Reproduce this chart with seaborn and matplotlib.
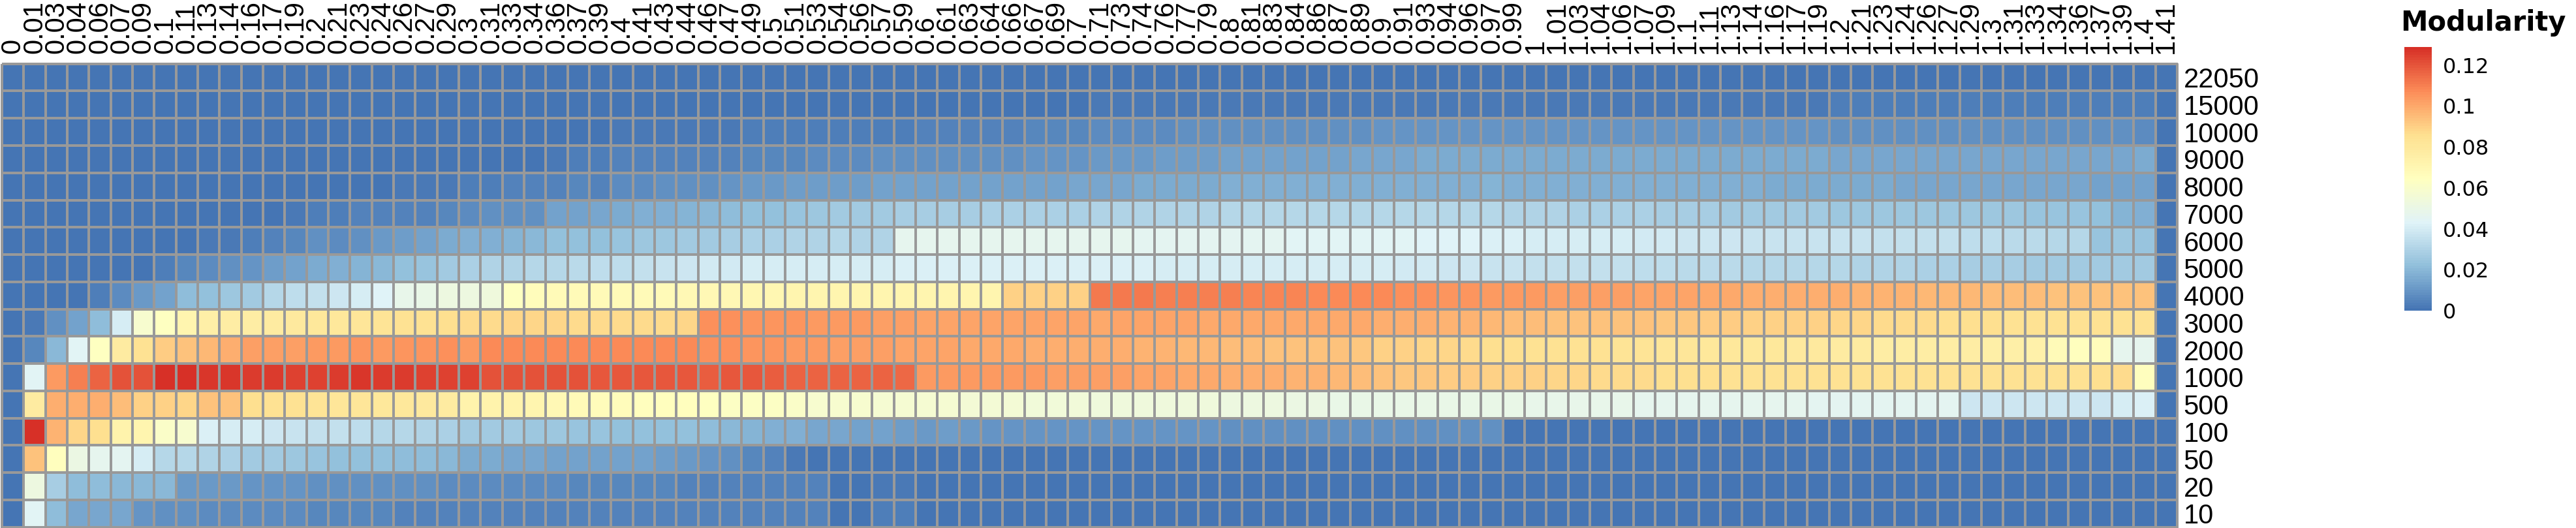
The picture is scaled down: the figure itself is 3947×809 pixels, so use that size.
import matplotlib
matplotlib.use("Agg")
import matplotlib.pyplot as plt
import numpy as np
import pandas as pd
import seaborn as sns
from matplotlib.colors import LinearSegmentedColormap

plt.rcParams['font.family'] = ['Liberation Sans', 'DejaVu Sans']

# row labels (resolution), top to bottom
resolutions = ["22050", "15000", "10000", "9000", "8000", "7000", "6000", "5000",
               "4000", "3000", "2000", "1000", "500", "100", "50", "20", "10"]

# column labels (parameter values)
params = ["0", "0.01", "0.03", "0.04", "0.06", "0.07", "0.09",
          "0.1", "0.11", "0.13", "0.14", "0.16", "0.17", "0.19",
          "0.2", "0.21", "0.23", "0.24", "0.26", "0.27", "0.29",
          "0.3", "0.31", "0.33", "0.34", "0.36", "0.37", "0.39",
          "0.4", "0.41", "0.43", "0.44", "0.46", "0.47", "0.49",
          "0.5", "0.51", "0.53", "0.54", "0.56", "0.57", "0.59",
          "0.6", "0.61", "0.63", "0.64", "0.66", "0.67", "0.69",
          "0.7", "0.71", "0.73", "0.74", "0.76", "0.77", "0.79",
          "0.8", "0.81", "0.83", "0.84", "0.86", "0.87", "0.89",
          "0.9", "0.91", "0.93", "0.94", "0.96", "0.97", "0.99",
          "1", "1.01", "1.03", "1.04", "1.06", "1.07", "1.09",
          "1.1", "1.11", "1.13", "1.14", "1.16", "1.17", "1.19",
          "1.2", "1.21", "1.23", "1.24", "1.26", "1.27", "1.29",
          "1.3", "1.31", "1.33", "1.34", "1.36", "1.37", "1.39",
          "1.4", "1.41"]

# modularity x 1000, one list per row
mod_22050 = [0, 1, 1, 1, 1, 1, 1, 1, 1, 1,
             1, 1, 1, 1, 1, 1, 1, 1, 1, 1,
             1, 1, 1, 1, 1, 1, 1, 1, 1, 1,
             1, 1, 1, 1, 1, 1, 1, 1, 1, 1,
             1, 1, 1, 1, 1, 1, 1, 1, 1, 1,
             1, 1, 1, 1, 1, 1, 1, 1, 1, 1,
             1, 1, 1, 1, 1, 1, 1, 1, 1, 1,
             1, 1, 1, 1, 1, 1, 1, 1, 1, 1,
             1, 1, 1, 1, 1, 1, 1, 1, 1, 1,
             1, 1, 1, 1, 1, 1, 1, 1, 1, 0]
mod_15000 = [0, 1, 1, 1, 1, 1, 1, 1, 1, 1,
             1, 1, 1, 1, 1, 1, 1, 1, 1, 1,
             1, 1, 1, 1, 1, 1, 1, 1, 1, 1,
             1, 1, 1, 1, 1, 1, 1, 1, 1, 1,
             1, 1, 1, 1, 1, 1, 1, 1, 1, 1,
             2, 2, 2, 2, 2, 2, 2, 2, 2, 2,
             2, 2, 2, 2, 2, 2, 2, 2, 2, 2,
             2, 2, 2, 2, 2, 2, 2, 2, 2, 2,
             2, 2, 2, 2, 3, 3, 3, 3, 3, 3,
             3, 3, 3, 3, 3, 3, 3, 3, 3, 0]
mod_10000 = [0, 1, 1, 1, 1, 1, 1, 1, 1, 1,
             1, 1, 1, 1, 1, 1, 1, 1, 1, 1,
             1, 1, 1, 1, 1, 1, 1, 1, 2, 2,
             2, 2, 2, 2, 3, 3, 3, 3, 3, 3,
             3, 3, 4, 4, 5, 5, 5, 6, 6, 6,
             7, 7, 7, 7, 8, 8, 8, 8, 9, 9,
             9, 9, 9, 10, 10, 10, 10, 10, 10, 10,
             10, 10, 10, 10, 10, 10, 10, 10, 10, 10,
             10, 10, 10, 10, 9, 9, 9, 9, 9, 9,
             9, 9, 9, 9, 9, 9, 9, 9, 7, 0]
mod_9000 = [0, 1, 1, 1, 1, 1, 1, 1, 1, 1,
            1, 1, 1, 1, 1, 1, 1, 1, 1, 1,
            1, 1, 1, 1, 1, 2, 3, 3, 4, 4,
            4, 5, 5, 5, 6, 6, 6, 7, 7, 7,
            8, 8, 8, 9, 9, 9, 9, 10, 10, 10,
            11, 11, 11, 12, 12, 12, 13, 13, 14, 14,
            14, 14, 15, 15, 15, 16, 16, 16, 16, 16,
            16, 16, 16, 16, 16, 16, 16, 16, 16, 16,
            16, 16, 16, 16, 15, 15, 15, 15, 15, 15,
            15, 15, 15, 15, 15, 15, 15, 15, 16, 0]
mod_8000 = [0, 1, 1, 1, 1, 1, 1, 1, 1, 1,
            1, 1, 1, 1, 1, 1, 1, 1, 2, 2,
            2, 3, 3, 4, 4, 5, 6, 5, 7, 7,
            8, 8, 9, 10, 11, 11, 12, 12, 12, 12,
            13, 13, 13, 13, 13, 13, 14, 14, 14, 15,
            15, 15, 16, 16, 16, 16, 17, 17, 17, 17,
            17, 17, 17, 18, 18, 18, 18, 18, 19, 18,
            18, 18, 18, 17, 17, 17, 17, 17, 17, 17,
            17, 16, 16, 16, 16, 16, 16, 15, 15, 15,
            15, 15, 15, 15, 15, 15, 14, 14, 14, 0]
mod_7000 = [0, 1, 1, 1, 1, 1, 1, 1, 1, 1,
            1, 1, 1, 2, 3, 3, 4, 4, 5, 5,
            6, 7, 8, 9, 9, 13, 14, 15, 16, 18,
            18, 19, 20, 21, 22, 23, 24, 25, 26, 27,
            27, 28, 28, 28, 28, 29, 29, 29, 29, 29,
            30, 30, 30, 30, 30, 30, 31, 31, 31, 31,
            31, 31, 31, 31, 31, 31, 31, 31, 31, 30,
            30, 30, 29, 29, 29, 29, 28, 28, 28, 27,
            27, 27, 26, 26, 25, 25, 25, 25, 25, 25,
            25, 25, 25, 24, 24, 24, 22, 19, 17, 0]
mod_6000 = [0, 1, 1, 1, 1, 1, 1, 1, 1, 2,
            2, 3, 4, 6, 8, 7, 9, 11, 12, 13,
            16, 17, 18, 19, 20, 22, 23, 23, 24, 25,
            25, 26, 27, 28, 29, 29, 30, 30, 31, 30,
            30, 47, 47, 47, 47, 47, 47, 47, 47, 47,
            47, 47, 46, 46, 46, 46, 46, 46, 46, 45,
            45, 45, 45, 44, 44, 43, 43, 43, 42, 42,
            41, 41, 40, 40, 40, 39, 39, 38, 38, 38,
            37, 37, 37, 37, 37, 37, 36, 36, 35, 35,
            34, 34, 33, 33, 32, 32, 24, 25, 24, 0]
mod_5000 = [0, 1, 1, 1, 1, 1, 1, 3, 6, 7,
            8, 10, 12, 14, 16, 17, 19, 20, 22, 24,
            27, 29, 30, 30, 31, 32, 33, 34, 34, 36,
            37, 38, 39, 39, 40, 40, 40, 40, 40, 41,
            41, 42, 42, 42, 42, 42, 42, 42, 42, 42,
            42, 42, 42, 41, 41, 41, 41, 41, 40, 40,
            40, 40, 40, 40, 39, 39, 38, 38, 37, 37,
            36, 36, 35, 35, 35, 34, 34, 33, 33, 33,
            32, 32, 32, 31, 31, 30, 30, 30, 29, 29,
            28, 28, 28, 27, 27, 27, 26, 26, 26, 0]
mod_4000 = [0, 1, 1, 1, 3, 7, 11, 14, 21, 22,
            25, 27, 31, 34, 36, 38, 40, 43, 48, 49,
            52, 52, 53, 64, 66, 67, 67, 68, 68, 68,
            68, 69, 69, 69, 70, 70, 71, 71, 71, 72,
            72, 72, 72, 72, 72, 72, 90, 90, 90, 90,
            111, 111, 111, 110, 110, 110, 110, 109, 109, 109,
            108, 108, 108, 107, 106, 106, 105, 105, 104, 104,
            104, 103, 103, 102, 102, 101, 101, 101, 100, 100,
            99, 99, 99, 98, 98, 97, 97, 97, 96, 96,
            96, 95, 95, 95, 94, 94, 94, 93, 93, 0]
mod_3000 = [0, 2, 9, 14, 21, 40, 58, 64, 72, 75,
            76, 77, 78, 79, 80, 81, 82, 83, 84, 85,
            86, 87, 87, 88, 88, 88, 87, 87, 87, 87,
            87, 88, 106, 106, 105, 105, 105, 104, 104, 104,
            103, 103, 101, 101, 101, 101, 101, 101, 101, 101,
            100, 101, 101, 101, 101, 100, 100, 100, 100, 100,
            100, 100, 100, 98, 98, 98, 97, 97, 96, 95,
            95, 94, 94, 93, 93, 93, 92, 92, 91, 91,
            90, 90, 89, 89, 88, 88, 87, 87, 87, 86,
            86, 86, 85, 85, 85, 85, 84, 84, 84, 0]
mod_2000 = [0, 6, 20, 45, 64, 78, 84, 91, 94, 96,
            99, 102, 103, 103, 104, 104, 105, 104, 105, 105,
            106, 104, 108, 108, 108, 108, 108, 108, 107, 107,
            107, 107, 106, 106, 105, 105, 104, 104, 103, 103,
            102, 101, 101, 101, 100, 100, 100, 99, 99, 99,
            98, 98, 97, 97, 96, 96, 95, 95, 94, 94,
            93, 93, 92, 90, 89, 88, 88, 87, 86, 86,
            85, 85, 84, 84, 83, 83, 82, 82, 81, 81,
            80, 80, 79, 79, 78, 78, 77, 77, 77, 76,
            76, 75, 75, 74, 68, 65, 66, 47, 47, 0]
mod_1000 = [0, 45, 104, 110, 116, 120, 121, 128, 128, 127,
            127, 125, 125, 124, 124, 126, 127, 125, 126, 124,
            124, 124, 121, 121, 120, 120, 120, 119, 119, 119,
            119, 119, 118, 119, 119, 118, 117, 117, 116, 117,
            116, 115, 104, 104, 104, 104, 104, 104, 103, 103,
            102, 102, 101, 101, 100, 100, 99, 99, 98, 97,
            97, 96, 95, 93, 92, 92, 91, 91, 90, 89,
            89, 88, 88, 87, 87, 87, 86, 86, 86, 85,
            85, 85, 84, 84, 85, 85, 85, 85, 85, 85,
            85, 85, 85, 85, 85, 85, 86, 87, 65, 0]
mod_500 = [0, 78, 99, 99, 98, 95, 90, 90, 88, 93,
           93, 86, 85, 84, 83, 82, 82, 80, 80, 79,
           78, 73, 73, 73, 72, 69, 67, 66, 66, 65,
           65, 65, 64, 63, 62, 62, 61, 59, 58, 58,
           57, 57, 57, 57, 56, 56, 56, 55, 55, 55,
           54, 54, 54, 53, 53, 53, 52, 52, 52, 51,
           51, 50, 50, 50, 50, 50, 49, 49, 49, 49,
           48, 48, 48, 48, 48, 47, 47, 47, 47, 47,
           47, 47, 47, 46, 46, 46, 46, 46, 46, 46,
           38, 38, 38, 38, 38, 38, 38, 40, 42, 0]
mod_100 = [0, 128, 97, 88, 86, 73, 71, 61, 58, 42,
           41, 41, 38, 37, 36, 35, 34, 32, 31, 30,
           29, 27, 26, 26, 25, 25, 24, 24, 23, 23,
           22, 22, 21, 20, 19, 18, 17, 15, 15, 14,
           13, 12, 11, 12, 11, 10, 10, 10, 10, 10,
           10, 10, 10, 10, 10, 10, 9, 9, 9, 9,
           9, 9, 9, 9, 9, 9, 9, 9, 9, 1,
           1, 1, 1, 1, 1, 1, 1, 1, 1, 1,
           1, 1, 1, 1, 1, 1, 1, 1, 1, 1,
           1, 1, 1, 1, 1, 1, 1, 1, 1, 0]
mod_50 = [0, 93, 65, 51, 47, 46, 40, 32, 31, 30,
          29, 26, 26, 25, 24, 23, 22, 22, 21, 21,
          20, 16, 16, 15, 15, 14, 14, 13, 13, 13,
          12, 11, 10, 9, 6, 4, 2, 1, 1, 1,
          1, 1, 1, 1, 1, 1, 1, 1, 1, 1,
          1, 1, 1, 1, 1, 1, 1, 1, 1, 1,
          1, 1, 1, 1, 1, 1, 1, 1, 1, 1,
          1, 1, 1, 1, 1, 1, 1, 1, 1, 1,
          1, 1, 1, 1, 1, 1, 1, 1, 1, 1,
          1, 1, 1, 1, 1, 1, 1, 1, 1, 0]
mod_20 = [0, 52, 28, 21, 21, 20, 20, 20, 11, 11,
          11, 10, 10, 10, 9, 9, 9, 8, 8, 8,
          7, 7, 7, 7, 7, 7, 6, 6, 6, 6,
          6, 5, 5, 5, 5, 5, 4, 4, 1, 1,
          2, 2, 1, 1, 1, 1, 1, 1, 1, 1,
          1, 1, 1, 1, 1, 1, 1, 1, 1, 1,
          1, 1, 1, 1, 1, 1, 1, 1, 1, 1,
          1, 1, 1, 1, 1, 1, 1, 1, 1, 1,
          1, 1, 1, 1, 1, 1, 1, 1, 1, 1,
          1, 1, 1, 1, 1, 1, 1, 1, 1, 0]
mod_10 = [0, 45, 21, 15, 15, 15, 10, 8, 8, 7,
          7, 7, 7, 7, 6, 6, 6, 6, 5, 5,
          5, 5, 5, 5, 5, 5, 4, 4, 4, 4,
          4, 4, 4, 4, 4, 4, 4, 4, 1, 1,
          3, 3, 1, 1, 1, 1, 1, 1, 1, 1,
          1, 1, 1, 1, 1, 1, 1, 1, 1, 1,
          1, 1, 1, 1, 1, 1, 1, 1, 1, 1,
          1, 1, 1, 1, 1, 1, 1, 1, 1, 1,
          1, 1, 1, 1, 1, 1, 1, 1, 1, 1,
          1, 1, 1, 1, 1, 1, 1, 1, 1, 0]

rows = [mod_22050, mod_15000, mod_10000, mod_9000, mod_8000, mod_7000,
        mod_6000, mod_5000, mod_4000, mod_3000, mod_2000, mod_1000,
        mod_500, mod_100, mod_50, mod_20, mod_10]
df = pd.DataFrame(np.array(rows) / 1000.0, index=resolutions, columns=params)

# pheatmap-like default palette (reversed RdYlBu, 7 colours -> 100 steps)
palette = ["#4575B4", "#91BFDB", "#E0F3F8", "#FFFFBF", "#FEE090", "#FC8D59", "#D73027"]
cmap = LinearSegmentedColormap.from_list("rdylbu_r", palette, N=100)

W, H = 3948, 809
fig = plt.figure(figsize=(W / 100, H / 100), dpi=100)
ax = fig.add_axes([3 / W, 1.3 / H, 3333 / W, 710 / H])
cax = fig.add_axes([3684 / W, 333 / H, 42 / W, 404 / H])

sns.heatmap(df, ax=ax, cbar_ax=cax, cmap=cmap, vmin=0, vmax=0.1288,
            linewidths=1.6, linecolor="#999999",
            xticklabels=True, yticklabels=True)
ax.collections[0].set_clip_on(False)

# column labels on top, rotated
ax.xaxis.tick_top()
ax.set_xticklabels(params, rotation=90, fontsize=30)
ax.tick_params(axis='x', length=0, pad=11)

# row labels on the right
ax.yaxis.tick_right()
ax.set_yticklabels(resolutions, rotation=0, fontsize=30)
ax.tick_params(axis='y', length=0, pad=7)
ax.set_xlabel("")
ax.set_ylabel("")

# legend
cbar = ax.collections[0].colorbar
cbar.outline.set_visible(False)
cbar.set_ticks([0, 0.02, 0.04, 0.06, 0.08, 0.1, 0.12])
cbar.set_ticklabels(["0", "0.02", "0.04", "0.06", "0.08", "0.1", "0.12"])
cax.tick_params(length=0, pad=12, labelsize=23)
for t in cax.get_yticklabels():
    t.set_fontfamily("DejaVu Sans")

fig.text(3678 / W, 1 - 46.7 / H, "Modularity", fontsize=30, fontweight="bold",
         family="DejaVu Sans", ha="left", va="baseline")

fig.savefig("out.png", dpi=100)
